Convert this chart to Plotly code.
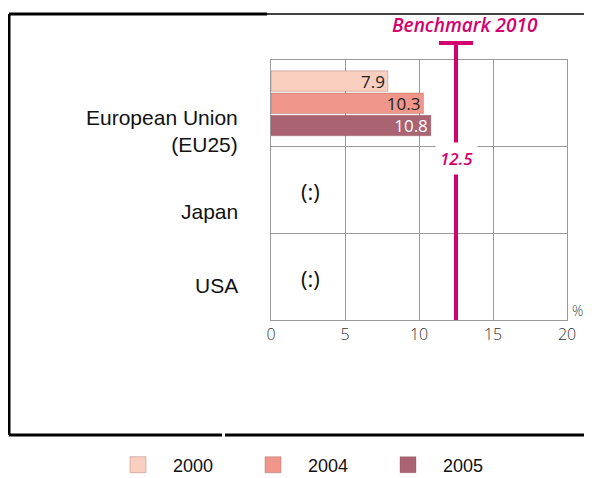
import plotly.graph_objects as go

categories = ["European Union<br>(EU25)", "Japan", "USA"]
years = ["2000", "2004", "2005"]
values_2000 = [7.9, None, None]
values_2004 = [10.3, None, None]
values_2005 = [10.8, None, None]
benchmark = 12.5
benchmark_label = "Benchmark 2010"
no_data = "(:)"

colors = ["#f9cfc0", "#f0968a", "#a96373"]
text_colors = ["#222222", "#222222", "#ffffff"]
magenta = "#d4006e"

# page has an 8px body margin, so work in reference pixels and shift
OFF = 8
W, H = 592 - 2 * OFF, 478 - OFF
L, R, T, B = 271, 567, 60, 320


def px(x):
    return (x - L) / (R - L)


def py(y):
    return (B - y) / (B - T)


fig = go.Figure()
for year, vals, c, tc in zip(years, [values_2000, values_2004, values_2005], colors, text_colors):
    fig.add_trace(go.Bar(
        y=categories, x=vals, name=year, orientation="h",
        marker=dict(color=c, line=dict(color="rgba(150,90,90,0.35)", width=1)),
        text=[f"{v}" if v is not None else "" for v in vals],
        textposition="inside", insidetextanchor="end", constraintext="none",
        textfont=dict(family="Open Sans", size=17, color=tc),
        showlegend=False,
    ))
    # legend entry with a bigger square
    fig.add_trace(go.Scatter(
        x=[None], y=[None], mode="markers", name=year,
        marker=dict(symbol="square", size=27, color=c, line=dict(color="rgba(150,90,90,0.35)", width=1)),
    ))

# benchmark line with T cap
fig.add_shape(type="line", xref="x", yref="paper", x0=benchmark, x1=benchmark,
              y0=0, y1=py(43), line=dict(color=magenta, width=4))
fig.add_shape(type="line", xref="x", yref="paper", x0=benchmark - 1.15, x1=benchmark + 1.15,
              y0=py(43), y1=py(43), line=dict(color=magenta, width=4))
fig.add_annotation(x=benchmark, xref="x", y=py(158), yref="paper", text=f"<i>{benchmark}</i>",
                   showarrow=False, bgcolor="white", borderpad=4, xanchor="center", yanchor="middle",
                   font=dict(family="Open Sans", size=17, color=magenta, weight=600))
fig.add_annotation(x=px(465), xref="paper", y=py(25), yref="paper", text=f"<i>{benchmark_label}</i>",
                   showarrow=False, xanchor="center", yanchor="middle",
                   font=dict(family="Open Sans", size=19, color=magenta, weight=600))

# category labels
label_shift = [-28, -21, -9]
for cat, s in zip(categories, label_shift):
    fig.add_annotation(x=px(240), xref="paper", y=cat, yref="y", yshift=s, text=cat,
                       showarrow=False, xanchor="right", yanchor="middle", align="right",
                       font=dict(family="Liberation Sans", size=21, color="#111111"))

# no-data markers
for cat, v in zip(categories, values_2005):
    if v is None:
        fig.add_annotation(x=2.7, xref="x", y=cat, yref="y", yshift=-1, text=no_data,
                           showarrow=False, xanchor="center", yanchor="middle",
                           font=dict(family="Open Sans", size=22, color="#111111"))

fig.add_annotation(x=px(577), xref="paper", y=py(310), yref="paper", text="%",
                   showarrow=False, xanchor="center", yanchor="middle",
                   font=dict(family="Open Sans", size=14, color="#444444", weight=300))

# outer frame
frame = [
    (9, 14, 9, 435, 3),
    (9, 14, 267, 14, 3),
    (267, 14, 592, 14, 1.5),
    (9, 435, 222, 435, 3),
    (225, 435, 592, 435, 3),
]
for x0, y0, x1, y1, w in frame:
    fig.add_shape(type="line", xref="paper", yref="paper", x0=px(x0), y0=py(y0), x1=px(x1), y1=py(y1),
                  line=dict(color="black", width=w))

fig.update_layout(
    width=W, height=H,
    margin=dict(l=L - OFF, r=W + OFF - R, t=T - OFF, b=478 - B, autoexpand=False),
    paper_bgcolor="white", plot_bgcolor="white",
    barmode="group", bargap=0.23, bargroupgap=0.08,
    legend=dict(orientation="h", x=px(103), xanchor="left", y=py(465), yanchor="middle",
                entrywidth=60, itemwidth=60, itemsizing="trace", bgcolor="rgba(0,0,0,0)",
                font=dict(family="Liberation Sans", size=18, color="#111111")),
    xaxis=dict(range=[0, 20], dtick=5, showgrid=True, gridcolor="#9a9a9a", gridwidth=1,
               showline=True, linecolor="#9a9a9a", mirror=True, zeroline=False, ticks="",
               tickfont=dict(family="Open Sans", size=16, color="#333333", weight=300)),
    yaxis=dict(categoryorder="array", categoryarray=categories, range=[2.5, -0.5],
               tickson="boundaries", showticklabels=False, ticks="",
               showgrid=True, gridcolor="#9a9a9a", gridwidth=1,
               showline=True, linecolor="#9a9a9a", mirror=True),
)

fig.write_html("out.html")
